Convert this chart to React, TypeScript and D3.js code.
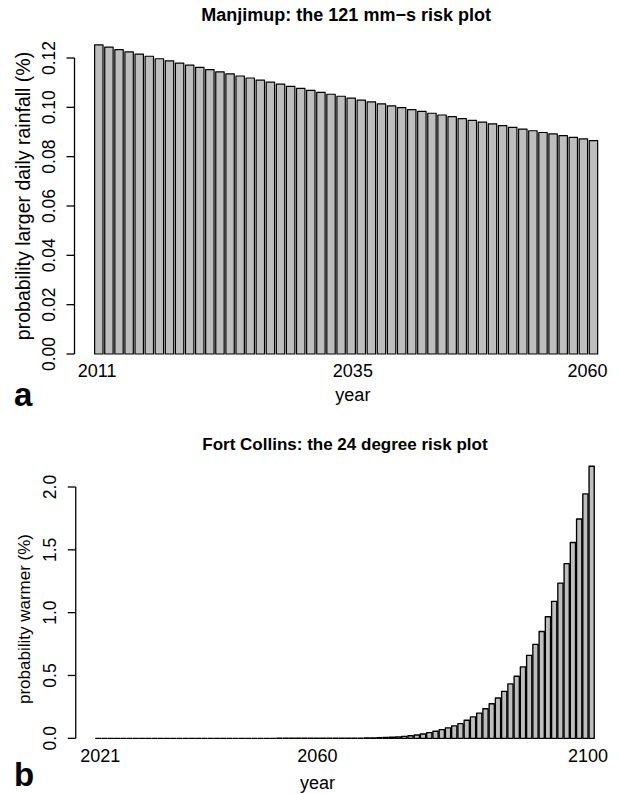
import React from 'react';
import * as d3 from 'd3';

// ---------- Panel a: Manjimup ----------
const topFirstYear = 2011;
const topValues = [
  0.1253, 0.1244, 0.1234, 0.1225, 0.1216, 0.1207, 0.1197, 0.1188, 0.1179, 0.1171,
  0.1162, 0.1153, 0.1144, 0.1136, 0.1127, 0.1119, 0.1110, 0.1102, 0.1094, 0.1085,
  0.1077, 0.1069, 0.1061, 0.1053, 0.1045, 0.1037, 0.1029, 0.1022, 0.1014, 0.1006,
  0.0999, 0.0991, 0.0984, 0.0976, 0.0969, 0.0962, 0.0954, 0.0947, 0.0940, 0.0933,
  0.0926, 0.0919, 0.0912, 0.0905, 0.0898, 0.0892, 0.0885, 0.0878, 0.0872, 0.0865,
];
const topTickLabels = ['2011', '2035', '2060'];
const topTickAt = [0.5, 30.9, 58.8]; // positions in bar units (bar i spans 1.2i+0.2 .. 1.2i+1.2)
const topYTicks = [0, 0.02, 0.04, 0.06, 0.08, 0.1, 0.12];
const topYTickLabels = ['0.00', '0.02', '0.04', '0.06', '0.08', '0.10', '0.12'];
const topTitle = 'Manjimup: the 121 mm\u2212s risk plot';
const topYLabel = 'probability larger daily rainfall (%)';

// ---------- Panel b: Fort Collins ----------
const botFirstYear = 2021;
const botValues = [
  0, 0, 0, 0, 0, 0, 0, 0, 0, 0,
  0, 0, 0, 0, 0, 0, 0, 0, 0, 0,
  0, 0, 0, 0, 0, 0, 0, 0, 0, 0.0001,
  0.0001, 0.0001, 0.0001, 0.0001, 0.00015, 0.0002, 0.0003, 0.0004, 0.0005, 0.0007,
  0.001, 0.0014, 0.0019, 0.0026, 0.0036, 0.0048, 0.0064, 0.0085, 0.011, 0.015,
  0.020, 0.026, 0.034, 0.045, 0.056, 0.069, 0.083, 0.099, 0.117, 0.144,
  0.171, 0.200, 0.235, 0.275, 0.321, 0.374, 0.433, 0.494, 0.569, 0.660,
  0.748, 0.850, 0.967, 1.090, 1.235, 1.390, 1.558, 1.745, 1.945, 2.165,
];
const botTickLabels = ['2021', '2060', '2100'];
const botTickAt = [1.08, 42.8, 94.8];
const botYTicks = [0, 0.5, 1.0, 1.5, 2.0];
const botYTickLabels = ['0.0', '0.5', '1.0', '1.5', '2.0'];
const botTitle = 'Fort Collins: the 24 degree risk plot';
const botYLabel = 'probability warmer (%)';

const FONT = '"Liberation Sans", Arial, Helvetica, sans-serif';

type PanelProps = {
  values: number[];
  firstYear: number;
  tickLabels: string[];
  tickAt: number[];
  yTicks: number[];
  yTickLabels: string[];
  title: string;
  yLabel: string;
  letter: string;
  xRange: [number, number];
  yRange: [number, number];
  titleY: number;
  titleSize: number;
  tickLabelY: number;
  xLabelY: number;
  yLabelCenter: number;
  yLabelSize: number;
  letterY: number;
  strokeW: number;
};

function Panel(p: PanelProps) {
  const n = p.values.length;
  const lo = 0.2;
  const hi = 1.2 * n;
  const ext = (hi - lo) * 0.04;
  const x = d3.scaleLinear().domain([lo - ext, hi + ext]).range(p.xRange);
  const y = d3
    .scaleLinear()
    .domain([p.yTicks[0], p.yTicks[p.yTicks.length - 1]])
    .range(p.yRange);
  const axisX = p.xRange[0];
  const cx = (p.xRange[0] + p.xRange[1]) / 2;
  return (
    <g fontFamily={FONT}>
      <text x={cx} y={p.titleY} textAnchor="middle" fontWeight="bold" fontSize={p.titleSize}>
        {p.title}
      </text>
      {p.values.map((v, i) => {
        const x0 = x(1.2 * i + 0.2);
        const x1 = x(1.2 * i + 1.2);
        const y0 = y(0);
        const y1 = y(v);
        const path = d3.path();
        path.moveTo(x0, y0);
        path.lineTo(x1, y0);
        path.lineTo(x1, y1);
        path.lineTo(x0, y1);
        path.closePath();
        return (
          <path
            key={p.firstYear + i}
            d={path.toString()}
            fill="#bebebe"
            stroke="#000"
            strokeWidth={p.strokeW}
            strokeLinejoin="round"
          />
        );
      })}
      <line
        x1={axisX}
        x2={axisX}
        y1={y(p.yTicks[0])}
        y2={y(p.yTicks[p.yTicks.length - 1])}
        stroke="#000"
        strokeWidth={1.3}
      />
      {p.yTicks.map((t, i) => (
        <g key={t}>
          <line x1={axisX - 8} x2={axisX} y1={y(t)} y2={y(t)} stroke="#000" strokeWidth={1.3} />
          <text
            transform={`translate(${axisX - 20},${y(t)}) rotate(-90)`}
            textAnchor="middle"
            fontSize={17.5}
          >
            {p.yTickLabels[i]}
          </text>
        </g>
      ))}
      {p.tickLabels.map((l, i) => (
        <text key={l} x={x(p.tickAt[i])} y={p.tickLabelY} textAnchor="middle" fontSize={18}>
          {l}
        </text>
      ))}
      <text x={x(p.tickAt[1])} y={p.xLabelY} textAnchor="middle" fontSize={18}>
        year
      </text>
      <text
        transform={`translate(30,${p.yLabelCenter}) rotate(-90)`}
        textAnchor="middle"
        fontSize={p.yLabelSize}
      >
        {p.yLabel}
      </text>
      <text x={14} y={p.letterY} fontWeight="bold" fontSize={33}>
        {p.letter}
      </text>
    </g>
  );
}

export default function App() {
  return (
    <svg
      width={618}
      height={794}
      style={{ position: 'absolute', left: 0, top: 0, background: '#fff' }}
    >
      <rect width={618} height={794} fill="#fff" />
      <Panel
        values={topValues}
        firstYear={topFirstYear}
        tickLabels={topTickLabels}
        tickAt={topTickAt}
        yTicks={topYTicks}
        yTickLabels={topYTickLabels}
        title={topTitle}
        yLabel={topYLabel}
        letter="a"
        xRange={[74.5, 617.8]}
        yRange={[354, 58]}
        titleY={21}
        titleSize={18}
        tickLabelY={376.5}
        xLabelY={401}
        yLabelCenter={196}
        yLabelSize={19.5}
        letterY={406}
        strokeW={1.2}
      />
      <Panel
        values={botValues}
        firstYear={botFirstYear}
        tickLabels={botTickLabels}
        tickAt={botTickAt}
        yTicks={botYTicks}
        yTickLabels={botYTickLabels}
        title={botTitle}
        yLabel={botYLabel}
        letter="b"
        xRange={[75.75, 614.2]}
        yRange={[738.3, 487]}
        titleY={450}
        titleSize={17}
        tickLabelY={761.5}
        xLabelY={789}
        yLabelCenter={619}
        yLabelSize={17}
        letterY={786}
        strokeW={1.35}
      />
    </svg>
  );
}
